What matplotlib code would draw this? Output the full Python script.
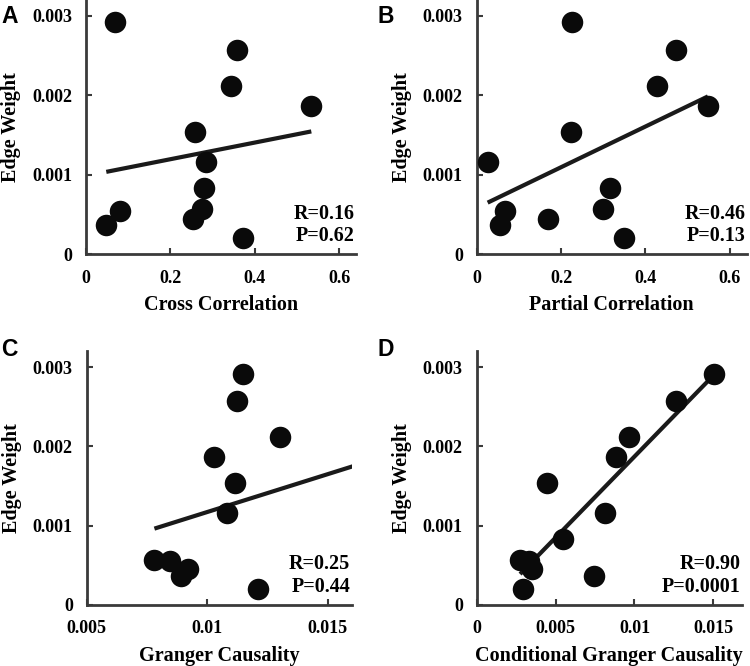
import numpy as np
import matplotlib
matplotlib.use("Agg")
import matplotlib.pyplot as plt

# edge weight of the 12 edges (same y values in every panel)
edge_weight = [0.00292, 0.00257, 0.00212, 0.00187, 0.00154, 0.00116,
               0.00083, 0.00057, 0.00055, 0.00045, 0.00037, 0.00020]

cross_corr = [0.069, 0.358, 0.343, 0.534, 0.259, 0.285,
              0.279, 0.275, 0.081, 0.254, 0.048, 0.373]
partial_corr = [0.227, 0.473, 0.427, 0.548, 0.223, 0.026,
                0.317, 0.299, 0.067, 0.169, 0.056, 0.350]
granger = [0.01149, 0.01124, 0.01302, 0.01027, 0.01115, 0.01082,
           0.0168, 0.00781, 0.00846, 0.00919, 0.00893, 0.01212]
cond_granger = [0.01506, 0.01263, 0.00965, 0.00883, 0.00446, 0.00815,
                0.00547, 0.00275, 0.00334, 0.00349, 0.00741, 0.00296]

panel_letters = ["A", "B", "C", "D"]
x_labels = ["Cross Correlation", "Partial Correlation",
            "Granger Causality", "Conditional Granger Causality"]
r_texts = ["R=0.16", "R=0.46", "R=0.25", "R=0.90"]
p_texts = ["P=0.62", "P=0.13", "P=0.44", "P=0.0001"]
x_ticks = [[0, 0.2, 0.4, 0.6], [0, 0.2, 0.4, 0.6],
           [0.005, 0.01, 0.015], [0, 0.005, 0.01, 0.015]]
x_ticklabels = [["0", "0.2", "0.4", "0.6"], ["0", "0.2", "0.4", "0.6"],
                ["0.005", "0.01", "0.015"], ["0", "0.005", "0.01", "0.015"]]
x_limits = [(0, 0.64), (0, 0.64), (0.005, 0.016), (0, 0.0168)]
y_ticks = [0, 0.001, 0.002, 0.003]
y_ticklabels = ["0", "0.001", "0.002", "0.003"]

plt.rcParams["font.family"] = ["Liberation Serif", "DejaVu Serif"]
plt.rcParams["font.weight"] = "bold"

fig = plt.figure(figsize=(7.5, 6.66), dpi=100)

# axes rectangles in figure fractions
rects = [
    [0.1147, 0.6182, 0.3600, 0.3818],
    [0.6356, 0.6182, 0.3600, 0.3818],
    [0.1156, 0.0916, 0.3534, 0.3809],
    [0.6356, 0.0916, 0.3534, 0.3809],
]
letter_pos = [(0.002, 0.993), (0.503, 0.993), (0.002, 0.493), (0.503, 0.493)]
all_x = [cross_corr, partial_corr, granger, cond_granger]
spine_col = "#3a3a3a"

for i in range(4):
    ax = fig.add_axes(rects[i])
    x = np.array(all_x[i])
    y = np.array(edge_weight)

    ax.scatter(x, y, s=240, color="#0a0a0a", zorder=3, linewidths=0)

    # least squares line across the data range
    k, b = np.polyfit(x, y, 1)
    xs = np.array([x.min(), x.max()])
    ax.plot(xs, k * xs + b, color="#1a1a1a", lw=3.0, zorder=2,
            solid_capstyle="butt")

    ax.set_xlim(*x_limits[i])
    ax.set_ylim(0, 0.0032)
    ax.set_xticks(x_ticks[i])
    ax.set_xticklabels(x_ticklabels[i])
    ax.set_yticks(y_ticks)
    ax.set_yticklabels(y_ticklabels)

    for s in ["top", "right"]:
        ax.spines[s].set_visible(False)
    for s in ["left", "bottom"]:
        ax.spines[s].set_color(spine_col)
        ax.spines[s].set_linewidth(2.0)

    ax.tick_params(direction="in", length=4, width=1.5, color=spine_col,
                   labelsize=13)
    ax.tick_params(axis="x", pad=11)
    ax.tick_params(axis="y", pad=10)
    for lab in ax.get_xticklabels() + ax.get_yticklabels():
        lab.set_fontweight("bold")

    ax.set_xlabel(x_labels[i], fontsize=14.5, fontweight="bold", labelpad=6)
    ax.set_ylabel("Edge Weight", fontsize=14.5, fontweight="bold", labelpad=8)

    ax.text(0.995, 0.16, r_texts[i], transform=ax.transAxes, ha="right",
            va="center", fontsize=14.5, fontweight="bold")
    ax.text(0.995, 0.07, p_texts[i], transform=ax.transAxes, ha="right",
            va="center", fontsize=14.5, fontweight="bold")

    fig.text(letter_pos[i][0], letter_pos[i][1], panel_letters[i],
             family="Liberation Sans", fontsize=16.5, fontweight="bold",
             ha="left", va="top")

fig.savefig("out.png", dpi=100)
